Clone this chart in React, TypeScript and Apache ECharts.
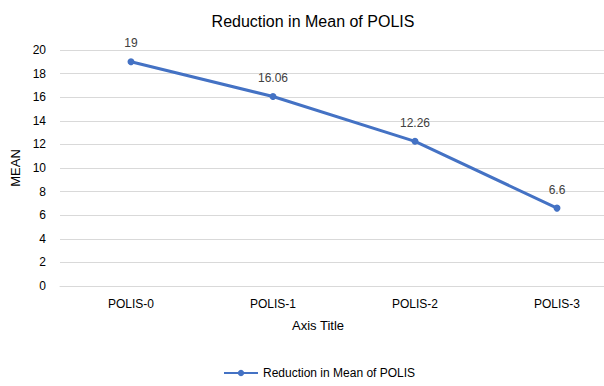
import React, { useEffect, useRef } from "react";
import * as echarts from "echarts";

const categories = ["POLIS-0", "POLIS-1", "POLIS-2", "POLIS-3"];
const meanValues = [19, 16.06, 12.26, 6.6];
const seriesName = "Reduction in Mean of POLIS";

export default function App() {
  const ref = useRef<HTMLDivElement>(null);
  useEffect(() => {
    if (!ref.current) return;
    const chart = echarts.init(ref.current, undefined, { renderer: "svg" });
    const font = "Liberation Sans, Arial, sans-serif";
    chart.setOption({
      animation: false,
      backgroundColor: "#ffffff",
      textStyle: { fontFamily: font },
      title: {
        text: "Reduction in Mean of POLIS",
        left: 308,
        textAlign: "center",
        top: 8,
        textStyle: { fontSize: 16, fontWeight: "normal", color: "#000000", fontFamily: font },
      },
      legend: {
        data: [seriesName],
        left: 218,
        top: 362,
        itemWidth: 34,
        itemHeight: 8,
        itemGap: 3,
        textStyle: { fontSize: 12, color: "#000000", fontFamily: font },
      },
      grid: { left: 60, top: 50, height: 236, width: 568 },
      xAxis: {
        type: "category",
        data: categories,
        name: "Axis Title",
        nameLocation: "middle",
        nameGap: 33,
        nameTextStyle: { fontSize: 13, color: "#000000", fontFamily: font, padding: [0, 0, 0, -52] },
        axisLine: { show: true, lineStyle: { color: "#d9d9d9" } },
        axisTick: { show: false },
        axisLabel: { fontSize: 12, color: "#000000", margin: 12, fontFamily: font },
      },
      yAxis: {
        type: "value",
        min: 0,
        max: 20,
        interval: 2,
        name: "MEAN",
        nameLocation: "middle",
        nameGap: 36,
        nameTextStyle: { fontSize: 13, color: "#000000", fontFamily: font },
        axisLine: { show: false },
        axisTick: { show: false },
        axisLabel: { fontSize: 12, color: "#000000", margin: 14, fontFamily: font },
        splitLine: { lineStyle: { color: "#d9d9d9" } },
      },
      series: [
        {
          name: seriesName,
          type: "line",
          data: meanValues,
          symbol: "circle",
          symbolSize: 7,
          lineStyle: { color: "#4472C4", width: 3 },
          itemStyle: { color: "#4472C4" },
          label: {
            show: true,
            position: "top",
            distance: 9,
            fontSize: 12,
            color: "#404040",
            fontFamily: font,
          },
        },
      ],
    });
    return () => chart.dispose();
  }, []);
  return (
    <div
      style={{ position: "absolute", left: 0, top: 0, width: 604, height: 386, overflow: "hidden", background: "#fff" }}
    >
      <div ref={ref} style={{ width: 640, height: 386 }} />
    </div>
  );
}
